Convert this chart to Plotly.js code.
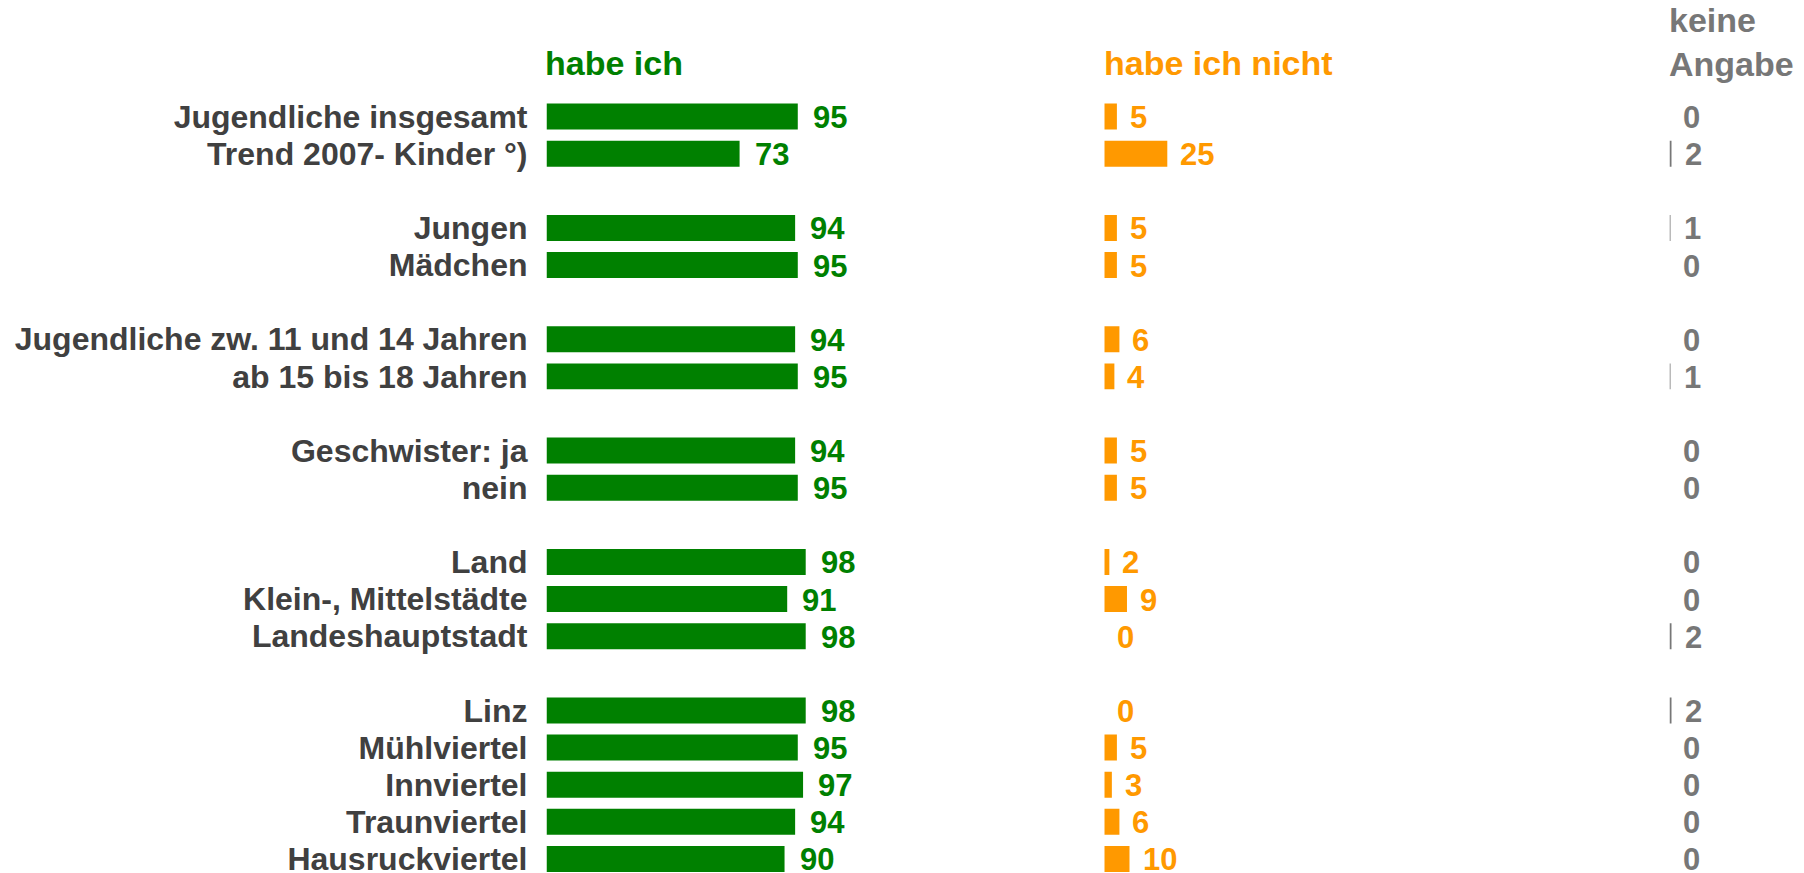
<!DOCTYPE html>
<html>
<head>
<meta charset="utf-8">
<script src="https://cdn.plot.ly/plotly-3.0.1.min.js"></script>
<style>html,body{margin:0;padding:0;background:#fff;}#chart{width:1804px;height:873px;}</style>
</head>
<body>
<div id="chart"></div>
<script>
// ---- data ----
const groups = [
  ["Jugendliche insgesamt", "Trend 2007- Kinder °)"],
  ["Jungen", "Mädchen"],
  ["Jugendliche zw. 11 und 14 Jahren", "ab 15 bis 18 Jahren"],
  ["Geschwister: ja", "nein"],
  ["Land", "Klein-, Mittelstädte", "Landeshauptstadt"],
  ["Linz", "Mühlviertel", "Innviertel", "Traunviertel", "Hausruckviertel"]
];
const habeIch      = [95, 73, 94, 95, 94, 95, 94, 95, 98, 91, 98, 98, 95, 97, 94, 90];
const habeIchNicht = [5, 25, 5, 5, 6, 4, 5, 5, 2, 9, 0, 0, 5, 3, 6, 10];
const keineAngabe  = [0, 2, 1, 0, 0, 1, 0, 0, 0, 0, 2, 2, 0, 0, 0, 0];
const seriesNames  = ["habe ich", "habe ich nicht", "keine<br>Angabe"];

// ---- build ----
const categories = [].concat(...groups);
const categoryOrder = [];
groups.forEach((g, i) => {
  if (i > 0) categoryOrder.push(" ".repeat(i));
  g.forEach(c => categoryOrder.push(c));
});

const GREEN = "#008000", ORANGE = "#FF9900", GREY = "#777777", LABEL = "#404040";
const FONT = "Liberation Sans, Arial, sans-serif";

function barTrace(vals, xa, color) {
  return {
    type: "bar", orientation: "h", x: vals, y: categories,
    xaxis: xa, yaxis: "y", marker: {color: color}, width: 0.7,
    hoverinfo: "skip", showlegend: false
  };
}
const data = [
  barTrace(habeIch, "x", GREEN),
  barTrace(habeIchNicht, "x2", ORANGE),
  barTrace(keineAngabe, "x3", GREY)
];

const annotations = [];
function addLabels(vals, xref, color, shift) {
  vals.forEach((v, i) => {
    annotations.push({
      xref: xref, yref: "y", x: v, y: categories[i], text: String(v),
      xanchor: "left", yanchor: "middle", xshift: shift, yshift: -1, showarrow: false,
      borderpad: 0, font: {family: FONT, size: 31, color: color, weight: "bold"}
    });
  });
}
addLabels(habeIch, "x", GREEN, 14);
addLabels(habeIchNicht, "x2", ORANGE, 12);
addLabels(keineAngabe, "x3", GREY, 12);

const H = 873, W = 1804, TOP = 98;
const headColors = [GREEN, ORANGE, GREY];
const headX = [544, 1103, 1668];
const headY = [63, 63, 42];
seriesNames.forEach((n, i) => {
  annotations.push({
    xref: "paper", yref: "paper", x: headX[i] / W, y: (H - headY[i]) / (H - TOP),
    xanchor: "left", yanchor: "middle", showarrow: false, align: "left",
    text: n, borderpad: 0,
    font: {family: FONT, size: 34, color: headColors[i], weight: "bold"}
  });
});

const layout = {
  width: W, height: H,
  margin: {l: 0, r: 0, t: TOP, b: 0},
  paper_bgcolor: "#fff", plot_bgcolor: "#fff",
  showlegend: false,
  font: {family: FONT, color: LABEL},
  xaxis:  {domain: [546.5 / W, (546.5 + 264.5) / W], range: [0, 100], visible: false, fixedrange: true},
  xaxis2: {domain: [1104.3 / W, (1104.3 + 252) / W], range: [0, 100], visible: false, fixedrange: true},
  xaxis3: {domain: [1669.5 / W, (1669.5 + 100) / W], range: [0, 100], visible: false, fixedrange: true},
  yaxis: {
    type: "category", categoryorder: "array", categoryarray: categoryOrder,
    tickmode: "array", tickvals: categoryOrder, ticktext: categoryOrder,
    range: [20.38, -0.5], anchor: "x", showgrid: false, zeroline: false, showline: false,
    ticks: "", ticklabelstandoff: 18,
    tickfont: {family: FONT, size: 32, color: LABEL, weight: "bold"}, fixedrange: true
  },
  annotations: annotations
};

Plotly.newPlot("chart", data, layout, {displayModeBar: false, staticPlot: true});
</script>
</body>
</html>
